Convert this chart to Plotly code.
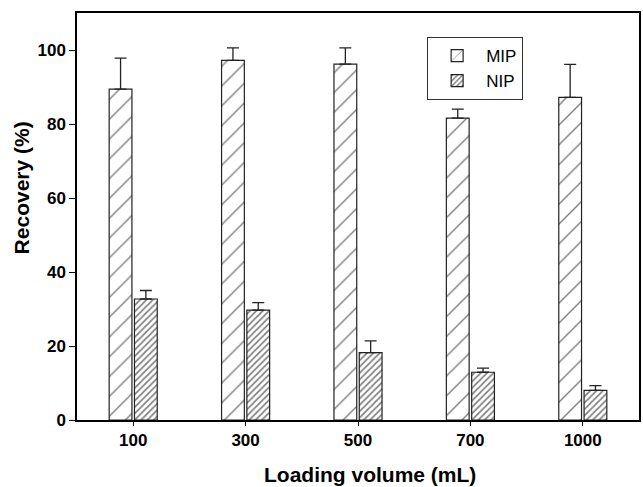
import plotly.graph_objects as go

categories = ["100", "300", "500", "700", "1000"]
mip_values = [89.4, 97.2, 96.2, 81.6, 87.2]
mip_errors = [8.4, 3.4, 4.4, 2.4, 8.9]
nip_values = [32.7, 29.7, 18.2, 12.9, 8.0]
nip_errors = [2.3, 2.0, 3.2, 1.1, 1.3]
y_ticks = [0, 20, 40, 60, 80, 100]

FONT = "Liberation Sans, Arial, sans-serif"

fig = go.Figure()
fig.add_trace(go.Bar(
    name="MIP", x=categories, y=mip_values,
    marker=dict(color="white", line=dict(color="#222", width=1.2),
                pattern=dict(shape="/", size=14, solidity=0.1,
                             fgcolor="black", bgcolor="white", fillmode="overlay")),
    error_y=dict(type="data", array=mip_errors, symmetric=False,
                 arrayminus=[0] * len(mip_errors), color="#222", thickness=1.3, width=6),
))
fig.add_trace(go.Bar(
    name="NIP", x=categories, y=nip_values,
    marker=dict(color="white", line=dict(color="#222", width=1.2),
                pattern=dict(shape="/", size=4.5, solidity=0.38,
                             fgcolor="black", bgcolor="white", fillmode="overlay")),
    error_y=dict(type="data", array=nip_errors, symmetric=False,
                 arrayminus=[0] * len(nip_errors), color="#222", thickness=1.3, width=6),
))

fig.update_layout(
    width=643, height=487,
    margin=dict(l=77, r=2, t=13, b=67),
    paper_bgcolor="white", plot_bgcolor="white",
    barmode="group", bargap=0.55, bargroupgap=0.1,
    font=dict(family=FONT, color="black"),
    showlegend=True,
    legend=dict(x=0.623, y=0.941, xanchor="left", yanchor="top",
                bordercolor="#333", borderwidth=1, bgcolor="white",
                font=dict(size=17, family=FONT), tracegroupgap=0,
                itemwidth=48),
    xaxis=dict(
        type="category", range=[-0.5, 4.5],
        showline=True, linecolor="black", linewidth=1.5, mirror=True,
        ticks="outside", ticklen=4, tickwidth=1.3, tickcolor="black",
        tickfont=dict(size=17, weight="bold", family=FONT),
        showgrid=False, zeroline=False,
    ),
    yaxis=dict(
        range=[0, 110], tickvals=y_ticks,
        showline=True, linecolor="black", linewidth=1.5, mirror=True,
        ticks="outside", ticklen=6, tickwidth=1.3, tickcolor="black",
        tickfont=dict(size=17, weight="bold", family=FONT),
        showgrid=False, zeroline=False,
    ),
    annotations=[
        dict(text="Loading volume (mL)", xref="paper", yref="paper",
             x=(371 - 77) / 564, y=(420.5 - 475) / 407, xanchor="center", yanchor="middle",
             showarrow=False, font=dict(size=21, weight="bold", family=FONT)),
        dict(text="Recovery (%)", xref="paper", yref="paper", textangle=-90,
             x=(21.7 - 77) / 564, y=(420.5 - 188) / 407, xanchor="center", yanchor="middle",
             showarrow=False, font=dict(size=21, weight="bold", family=FONT)),
    ],
)

fig.write_html("out.html", config={"displayModeBar": False},
               post_script="document.body.style.margin='0px';")
